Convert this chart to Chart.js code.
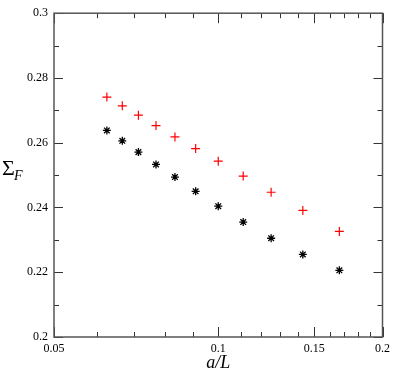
<!DOCTYPE html>
<html>
<head>
<meta charset="utf-8">
<script src="https://cdn.jsdelivr.net/npm/chart.js@4.4.0/dist/chart.umd.min.js"></script>
<style>
    html, body { margin: 0; padding: 0; background: #fff; }
    #wrap { width: 395px; height: 371px; }
</style>
</head>
<body>
<div id="wrap"><canvas id="chart" width="395" height="371"></canvas></div>
<script>
// a/L values (L = 16 ... 6)
const aOverL = [0.0625, 0.0667, 0.0714, 0.0769, 0.0833, 0.0909, 0.1, 0.1111, 0.125, 0.1429, 0.1667];

// Sigma_F series
const sigmaRed = [0.2741, 0.2714, 0.2685, 0.2653, 0.2618, 0.2582, 0.2543, 0.2497, 0.2447, 0.2391, 0.2326];
const sigmaBlack = [0.2638, 0.2606, 0.2571, 0.2533, 0.2494, 0.2450, 0.2404, 0.2355, 0.2305, 0.2255, 0.2206];

// Tick values
const xMajor = [0.05, 0.1, 0.15, 0.2];
const xMinor = [0.06, 0.07, 0.08, 0.09, 0.11, 0.12, 0.13, 0.14, 0.16, 0.17, 0.18, 0.19];
const yMajor = [0.2, 0.22, 0.24, 0.26, 0.28, 0.3];
const yMinor = [0.21, 0.23, 0.25, 0.27, 0.29];

const SERIF = "'Liberation Serif', 'DejaVu Serif', serif";

function toPoints(xs, ys) {
    return xs.map((x, i) => ({ x: x, y: ys[i] }));
}

// Draws the box round the plot and the inward tick marks on all four sides
const frameTicks = {
    id: 'frameTicks',
    afterDraw(chart) {
        const ctx = chart.ctx;
        const a = chart.chartArea;
        const x = chart.scales.x;
        const y = chart.scales.y;
        ctx.save();

        ctx.strokeStyle = '#333';
        ctx.lineWidth = 1;
        const tick = (px, len, vertical) => {
            ctx.beginPath();
            if (vertical) {
                ctx.moveTo(px, a.bottom); ctx.lineTo(px, a.bottom - len);
                ctx.moveTo(px, a.top); ctx.lineTo(px, a.top + len);
            } else {
                ctx.moveTo(a.left, px); ctx.lineTo(a.left + len, px);
                ctx.moveTo(a.right, px); ctx.lineTo(a.right - len, px);
            }
            ctx.stroke();
        };
        xMajor.forEach(v => tick(Math.round(x.getPixelForValue(v)) + 0.5, 10, true));
        xMinor.forEach(v => tick(Math.round(x.getPixelForValue(v)) + 0.5, 5, true));
        yMajor.forEach(v => tick(Math.round(y.getPixelForValue(v)) + 0.5, 9, false));
        yMinor.forEach(v => tick(Math.round(y.getPixelForValue(v)) + 0.5, 5, false));

        ctx.strokeStyle = '#555';
        ctx.lineWidth = 1.5;
        ctx.strokeRect(a.left, a.top, a.right - a.left, a.bottom - a.top);

        // y axis title: Sigma with subscript F
        ctx.fillStyle = '#000';
        ctx.textBaseline = 'alphabetic';
        ctx.textAlign = 'left';
        ctx.font = '22px ' + SERIF;
        ctx.fillText('\u03A3', 2, 175);
        ctx.font = 'italic 14px ' + SERIF;
        ctx.fillText('F', 14, 180);

        ctx.restore();
    }
};

const ctx = document.getElementById('chart').getContext('2d');

const chart = new Chart(ctx, {
    type: 'scatter',
    data: {
        datasets: [
            {
                label: 'red',
                data: toPoints(aOverL, sigmaRed),
                pointStyle: 'cross',
                pointRadius: 4.5,
                borderColor: '#ff0000',
                backgroundColor: '#ff0000',
                borderWidth: 1.2,
                showLine: false
            },
            {
                label: 'black',
                data: toPoints(aOverL, sigmaBlack),
                pointStyle: 'star',
                pointRadius: 4,
                borderColor: '#000',
                backgroundColor: '#000',
                borderWidth: 1.3,
                showLine: false
            }
        ]
    },
    options: {
        responsive: false,
        animation: false,
        layout: {
            padding: { top: 6, right: 9, left: 0, bottom: 0 }
        },
        plugins: {
            legend: { display: false },
            tooltip: { enabled: false }
        },
        scales: {
            x: {
                type: 'logarithmic',
                min: 0.05,
                max: 0.2,
                grid: { display: false, drawTicks: false },
                border: { display: false },
                afterBuildTicks: function(scale) {
                    scale.ticks = xMajor.map(v => ({ value: v }));
                },
                afterFit: function(scale) {
                    scale.height = 34;
                },
                ticks: {
                    padding: 5,
                    maxRotation: 0,
                    autoSkip: false,
                    color: '#000',
                    font: { family: SERIF, size: 12 },
                    callback: function(value) {
                        return String(+value.toFixed(2));
                    }
                },
                title: {
                    display: true,
                    text: 'a/L',
                    color: '#000',
                    font: { family: SERIF, size: 18, style: 'italic' },
                    padding: { top: 0, bottom: -3 }
                }
            },
            y: {
                min: 0.2,
                max: 0.3,
                grid: { display: false, drawTicks: false },
                border: { display: false },
                afterBuildTicks: function(scale) {
                    scale.ticks = yMajor.map(v => ({ value: v }));
                },
                afterFit: function(scale) {
                    scale.width = 54;
                },
                ticks: {
                    padding: 6,
                    color: '#000',
                    font: { family: SERIF, size: 12 },
                    callback: function(value) {
                        return String(+value.toFixed(2));
                    }
                }
            }
        }
    },
    plugins: [frameTicks]
});
</script>
</body>
</html>
